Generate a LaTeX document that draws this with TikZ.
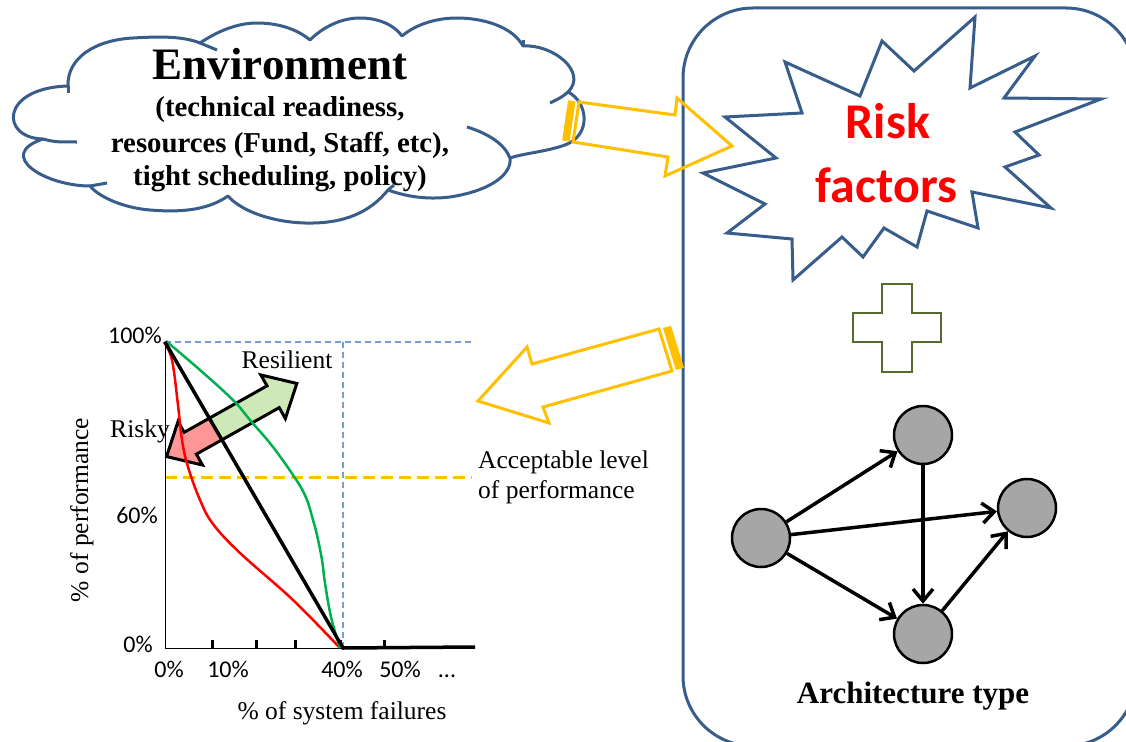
\documentclass[tikz,border=0pt]{standalone}
\usepackage{fontspec}
\setmainfont{Liberation Serif}
\newfontfamily\calibri{Carlito}
\usetikzlibrary{arrows.meta,calc}
\definecolor{cloudblue}{RGB}{56,93,138}
\definecolor{goldline}{RGB}{255,192,0}
\definecolor{plusgreen}{RGB}{84,106,46}
\definecolor{dashblue}{RGB}{120,158,210}
\definecolor{curvegreen}{RGB}{0,176,80}
\definecolor{arrowgreen}{RGB}{206,232,184}
\definecolor{arrowred}{RGB}{255,150,150}
\definecolor{nodegray}{RGB}{166,166,166}
\tikzset{
  blueline/.style={draw=cloudblue, line width=3pt},
  goldarrow/.style={draw=goldline, line width=3pt, line join=miter},
  gnode/.style={circle, draw=black, fill=nodegray, line width=2.5pt, minimum size=58pt, inner sep=0pt},
  gedge/.style={line width=3.5pt, -{Straight Barb[length=12pt,width=20pt]}},
  lbl/.style={inner sep=0pt, anchor=base},
}
\begin{document}
\begin{tikzpicture}[x=1pt,y=-1pt]
\useasboundingbox (0,0) rectangle (1126,741);
\clip (0,0) rectangle (1126,741);
\fill[white] (0,0) rectangle (1126,741);

% ---------- cloud ----------
\draw[blueline, line join=round]
  (90,186) .. controls (45,186) and (-5,155) .. (43,139)
  .. controls (0,138) and (0,88) .. (68,86)
  .. controls (67,58) and (95,40) .. (133,38)
  .. controls (165,36) and (185,37) .. (200,43)
  .. controls (215,33) and (235,23) .. (257,23)
  .. controls (280,23) and (298,30) .. (310,40)
  .. controls (322,28) and (340,18) .. (360,18)
  .. controls (380,18) and (395,26) .. (402,36)
  .. controls (415,25) and (435,18) .. (457,18)
  .. controls (482,18) and (512,26) .. (523,46)
  .. controls (553,44) and (588,72) .. (568,92)
  .. controls (588,102) and (592,135) .. (565,145)
  .. controls (545,152) and (525,153) .. (510,158)
  .. controls (512,172) and (495,190) .. (450,197)
  .. controls (425,200) and (405,196) .. (388,190)
  .. controls (370,212) and (345,224) .. (305,223)
  .. controls (270,222) and (240,210) .. (228,196)
  .. controls (205,212) and (175,212) .. (150,210)
  .. controls (125,208) and (100,198) .. cycle;
\draw[blueline] (43,139) .. controls (55,142) .. (77,142);
\draw[blueline] (90,186) -- (107,183);
\draw[blueline] (568,92) .. controls (562,97) .. (550,103);
\draw[blueline] (467,127) .. controls (490,134) and (505,145) .. (510,158);
\draw[blueline] (388,190) -- (394,185);
\draw[blueline] (200,43) -- (217,50);
\draw[blueline] (523,46) -- (523,40);
\draw[blueline] (68,86) -- (68,93);

\node[lbl] (envt) at (280,80) {\bfseries\fontsize{45}{50}\selectfont Environment};
\node[lbl] (env1) at (280,117) {\bfseries\fontsize{28.8}{32}\selectfont (technical readiness,};
\node[lbl] (env2) at (280,152) {\bfseries\fontsize{28.8}{32}\selectfont resources (Fund, Staff, etc),};
\node[lbl] (env3) at (280,185) {\bfseries\fontsize{28.8}{32}\selectfont tight scheduling, policy)};

% ---------- big rounded box ----------
\draw[blueline, rounded corners=70pt] (683,8) rectangle (1136,746);

% ---------- yellow arrow cloud -> box ----------
\draw[goldarrow] (579,102) -- (675,115) -- (677,98) -- (732,146) -- (665,176) -- (668,157) -- (573,142) -- cycle;
\fill[goldline] (575.5,101.5) -- (568.1,100.3) -- (562.1,140.3) -- (569.5,141.5) -- cycle;

% ---------- starburst ----------
\draw[blueline, line join=miter, fill=white]
 (785,62) -- (860,96) -- (882,41) -- (914,71) -- (975,17) -- (970,88) -- (1035,56) -- (1004,98)
 -- (1101,99) -- (1015,132) -- (1039,155) -- (1005,167) -- (1051,208) -- (972,192) -- (978,228)
 -- (927,211) -- (917,247) -- (884,228) -- (863,257) -- (842,237) -- (793,280) -- (792,239)
 -- (727,233) -- (765,204) -- (703,173) -- (776,158) -- (725,117) -- (802,113) -- cycle;
\node[lbl, text=red] (risk) at (888,139) {\calibri\bfseries\fontsize{50}{55}\selectfont Risk};
\node[lbl, text=red] (factors) at (886.5,202) {\calibri\bfseries\fontsize{50}{55}\selectfont factors};

% ---------- plus ----------
\draw[draw=plusgreen, line width=2.5pt]
 (882,284) -- (912,284) -- (912,313) -- (941,313) -- (941,342) -- (912,342) -- (912,372)
 -- (882,372) -- (882,342) -- (853,342) -- (853,313) -- (882,313) -- cycle;

% ---------- architecture graph ----------
\node[gnode] (n1) at (761,538) {};
\node[gnode] (n2) at (923,435) {};
\node[gnode] (n3) at (1027,508) {};
\node[gnode] (n4) at (923,634) {};
\draw[gedge] (n1) -- (n2);
\draw[gedge] (n1) -- (n3);
\draw[gedge] (n1) -- (n4);
\draw[gedge] (n2) -- (n4);
\draw[gedge] (n4) -- (n3);
\node[lbl] (arch) at (913,703) {\bfseries\fontsize{31}{34}\selectfont Architecture type};

% ---------- yellow arrow box -> chart ----------
\draw[goldarrow] (659,329) -- (532,364) -- (527,347) -- (478,401) -- (549,423) -- (543,407) -- (672,371) -- cycle;
\fill[goldline] (662.9,328) -- (671,325.8) -- (684,367.8) -- (675.9,370) -- cycle;

% ---------- chart ----------
\draw[dashblue, line width=1.2pt, dash pattern=on 6pt off 4pt] (165,342) -- (475,342);
\draw[dashblue, line width=1.2pt, dash pattern=on 6pt off 4pt] (343,342) -- (343,648);
\draw[goldline, line width=3pt, dash pattern=on 12pt off 6pt] (165,477) -- (472,477);

\begin{scope}[shift={(231.7,420)}, rotate=29.3]
 \fill[arrowred] (-74.7,0) -- (-47.5,25) -- (-47.5,12.5) -- (-18,12.5) -- (-18,-12.5) -- (-47.5,-12.5) -- (-47.5,-25) -- cycle;
 \fill[arrowgreen] (-18,12.5) -- (47.5,12.5) -- (47.5,25) -- (74.7,0) -- (47.5,-25) -- (47.5,-12.5) -- (-18,-12.5) -- cycle;
 \draw[black, line width=3pt, line join=miter] (-74.7,0) -- (-47.5,25) -- (-47.5,12.5) -- (47.5,12.5) -- (47.5,25) -- (74.7,0) -- (47.5,-25) -- (47.5,-12.5) -- (-47.5,-12.5) -- (-47.5,-25) -- cycle;
\end{scope}

\draw[black, line width=1pt] (165,342) -- (165,648) -- (343,648);
\foreach \tx in {212,256,295,340,384} \draw[black, line width=3pt] (\tx,648) -- (\tx,640);

\draw[red, line width=2.5pt] plot[smooth, tension=0.6] coordinates {(164,342) (172,360) (178,405) (182,440) (188,467) (200,500) (213,524) (240,553) (293,600) (340,648)};
\draw[curvegreen, line width=2.5pt] plot[smooth, tension=0.6] coordinates {(166,341) (200,370) (233,400) (250,420) (273,447) (297,481) (307,500) (313,520) (317,535) (322,560) (325,583) (331,617) (340,648)};
\draw[black, line width=3.5pt] (165,342) -- (343,648) -- (475,647);

\node[lbl, anchor=base east] (y100) at (162,343) {\calibri\fontsize{24}{26}\selectfont 100\%};
\node[lbl, anchor=base east] (y60) at (158,523) {\calibri\fontsize{24}{26}\selectfont 60\%};
\node[lbl, anchor=base east] (y0) at (153,652) {\calibri\fontsize{24}{26}\selectfont 0\%};
\node[lbl] (x0) at (169,677) {\calibri\fontsize{24}{26}\selectfont 0\%};
\node[lbl] (x10) at (228,677) {\calibri\fontsize{24}{26}\selectfont 10\%};
\node[lbl] (x40) at (342,677) {\calibri\fontsize{24}{26}\selectfont 40\%};
\node[lbl] (x50) at (400,677) {\calibri\fontsize{24}{26}\selectfont 50\%};
\node[lbl] (xdots) at (447,677) {\calibri\fontsize{24}{26}\selectfont ...};
\node[lbl] (xlab) at (342,719) {\fontsize{25.5}{28}\selectfont \% of system failures};
\node[lbl, rotate=90] (ylab) at (88,510) {\fontsize{25.5}{28}\selectfont \% of performance};
\node[lbl] (resil) at (287,368) {\fontsize{25.5}{28}\selectfont Resilient};
\node[lbl] (risky) at (140,437) {\fontsize{25.5}{28}\selectfont Risky};
\node[lbl, anchor=base west] (acc1) at (478,468) {\fontsize{25.5}{28}\selectfont Acceptable level};
\node[lbl, anchor=base west] (acc2) at (478,498) {\fontsize{25.5}{28}\selectfont of performance};
\end{tikzpicture}
\end{document}
